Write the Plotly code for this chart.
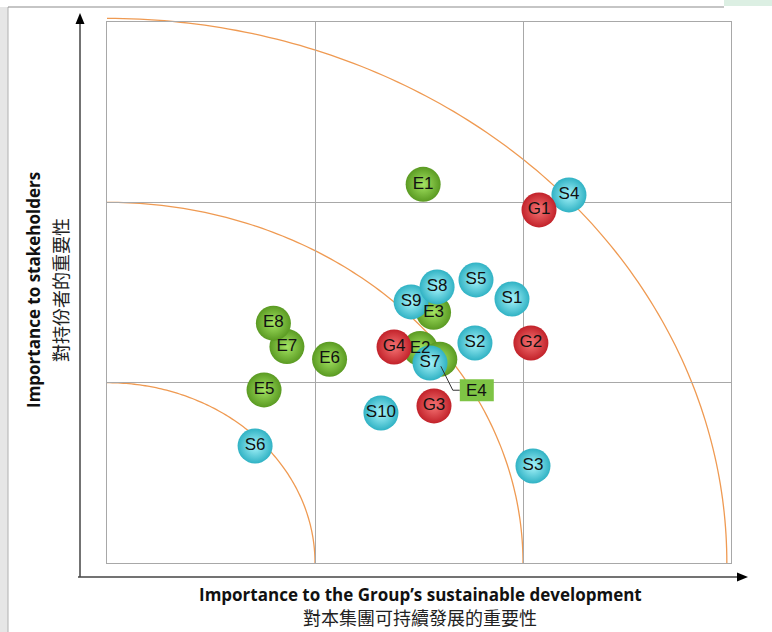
import numpy as np
import plotly.graph_objects as go

# ---------------- data ----------------
E_labels = ["E1", "E2", "E3", "E4", "E5", "E6", "E7", "E8"]
E_x = [1.52, 1.505, 1.57, 1.60, 0.755, 1.07, 0.865, 0.80]
E_y = [2.10, 1.19, 1.39, 1.13, 0.96, 1.13, 1.20, 1.33]

S_labels = ["S1", "S2", "S3", "S4", "S5", "S6", "S7", "S9", "S8", "S10"]
S_x = [1.947, 1.769, 2.048, 2.221, 1.774, 0.712, 1.553, 1.462, 1.587, 1.317]
S_y = [1.464, 1.220, 0.538, 2.041, 1.570, 0.649, 1.109, 1.448, 1.531, 0.832]

G_labels = ["G1", "G2", "G3", "G4"]
G_x = [2.077, 2.038, 1.572, 1.380]
G_y = [1.958, 1.220, 0.871, 1.198]

x_title_en = "Importance to the Group’s sustainable development"
x_title_zh = "對本集團可持續發展的重要性"
y_title_en = "Importance to stakeholders"
y_title_zh = "對持份者的重要性"

# ---------------- layout geometry ----------------
W, H = 772, 632
L, R, T, B = 107, 731, 22, 563
XMAX, YMAX = 3, 3


def px(x):
    return (x - L) / (R - L)


def py(y):
    return (B - y) / (B - T)


def d2pix(x, y):
    return L + x / XMAX * (R - L), B - y / YMAX * (B - T)


fig = go.Figure()

styles = {
    "E": dict(edge="#5a9a22", center="#a4e462"),
    "S": dict(edge="#30b2c4", center="#a8f5fb"),
    "G": dict(edge="#c2222a", center="#f67474"),
}

for key, xs, ys in [("E", E_x, E_y), ("S", S_x, S_y), ("G", G_x, G_y)]:
    st = styles[key]
    fig.add_trace(go.Scatter(
        x=xs, y=ys, mode="markers",
        marker=dict(size=35, color=st["edge"],
                    gradient=dict(type="radial", color=st["center"]),
                    line=dict(width=0)),
        cliponaxis=False, hoverinfo="skip", showlegend=False))

# labels on top of all bubbles
for labels, xs, ys in [(E_labels, E_x, E_y), (S_labels, S_x, S_y), (G_labels, G_x, G_y)]:
    txt = [("" if lb == "E4" else lb) for lb in labels]
    fig.add_trace(go.Scatter(
        x=xs, y=ys, mode="text", text=txt, textposition="middle center",
        textfont=dict(family="Arial", size=17, color="#111"),
        cliponaxis=False, hoverinfo="skip", showlegend=False))

shapes = []
# arcs
ARC_RADII = [(1.0, 1.0), (2.0, 2.0), (2.98, 3.02)]
th = np.linspace(0, np.pi / 2, 120)
for rx, ry in ARC_RADII:
    xs = rx * np.cos(th) / XMAX
    ys = ry * np.sin(th) / YMAX
    path = "M " + " L ".join(f"{a:.5f},{b:.5f}" for a, b in zip(xs, ys))
    shapes.append(dict(type="path", xref="paper", yref="paper", path=path,
                       line=dict(color="#ef9a52", width=1.3), layer="below"))

# axis arrows
AX = "#444"
shapes.append(dict(type="line", xref="paper", yref="paper",
                   x0=px(80), y0=py(577), x1=px(80), y1=py(22),
                   line=dict(color=AX, width=1.5)))
shapes.append(dict(type="line", xref="paper", yref="paper",
                   x0=px(78), y0=py(577), x1=px(740), y1=py(577),
                   line=dict(color=AX, width=1.5)))
shapes.append(dict(type="path", xref="paper", yref="paper",
                   path=f"M {px(80)},{py(13)} L {px(75.5)},{py(24)} L {px(84.5)},{py(24)} Z",
                   fillcolor="black", line=dict(width=0)))
shapes.append(dict(type="path", xref="paper", yref="paper",
                   path=f"M {px(748)},{py(577)} L {px(737)},{py(572.5)} L {px(737)},{py(581.5)} Z",
                   fillcolor="black", line=dict(width=0)))

# outer frame decorations
shapes.append(dict(type="rect", xref="paper", yref="paper",
                   x0=px(0), x1=px(8), y0=py(632), y1=py(7),
                   fillcolor="#e6e6e6", line=dict(width=0), layer="below"))
shapes.append(dict(type="line", xref="paper", yref="paper",
                   x0=px(8), x1=px(8), y0=py(632), y1=py(7),
                   line=dict(color="#b0b0b0", width=1)))
shapes.append(dict(type="line", xref="paper", yref="paper",
                   x0=px(8), x1=px(724), y0=py(7), y1=py(7),
                   line=dict(color="#8c8c8c", width=1.2)))
shapes.append(dict(type="rect", xref="paper", yref="paper",
                   x0=px(724), x1=px(772), y0=py(6), y1=py(0),
                   fillcolor="#dcefe3", line=dict(width=0)))

# E4 callout
i4 = E_labels.index("E4")
ex, ey = d2pix(E_x[i4], E_y[i4])
shapes.append(dict(type="path", xref="paper", yref="paper",
                   path=f"M {px(ex+1)},{py(ey+7)} L {px(ex+13)},{py(ey+31)} L {px(ex+20)},{py(ey+31)}",
                   line=dict(color="#333", width=1)))
bx, by = ex + 37, ey + 31
shapes.append(dict(type="rect", xref="paper", yref="paper",
                   x0=px(bx - 17), x1=px(bx + 17), y0=py(by + 11), y1=py(by - 11),
                   fillcolor="#7ec445", line=dict(width=0)))

annotations = [
    dict(xref="paper", yref="paper", x=px(bx), y=py(by), text="E4", showarrow=False,
         font=dict(family="Arial", size=17, color="#111"), xanchor="center", yanchor="middle"),
    dict(xref="paper", yref="paper", x=px(420), y=py(594), text=f"<b>{x_title_en}</b>",
         showarrow=False, font=dict(family="Open Sans", size=17, color="#111"),
         xanchor="center", yanchor="middle"),
    dict(xref="paper", yref="paper", x=px(420), y=py(617), text=x_title_zh,
         showarrow=False, font=dict(family="Noto Sans CJK TC", size=18, color="#222"),
         xanchor="center", yanchor="middle"),
    dict(xref="paper", yref="paper", x=px(33), y=py(290), text=f"<b>{y_title_en}</b>",
         showarrow=False, textangle=-90, font=dict(family="Open Sans", size=17, color="#111"),
         xanchor="center", yanchor="middle"),
    dict(xref="paper", yref="paper", x=px(60), y=py(290), text=y_title_zh,
         showarrow=False, textangle=-90, font=dict(family="Noto Sans CJK TC", size=18, color="#222"),
         xanchor="center", yanchor="middle"),
]

axis_common = dict(showticklabels=False, ticks="", showgrid=True, gridcolor="#a8a8a8",
                   gridwidth=1, zeroline=False, showline=True, mirror=True,
                   linecolor="#a8a8a8", linewidth=1, dtick=1, fixedrange=True)

fig.update_layout(
    width=W, height=H, autosize=False,
    margin=dict(l=L, r=W - R, t=T, b=H - B, pad=0),
    paper_bgcolor="white", plot_bgcolor="white",
    xaxis=dict(range=[0, XMAX], **axis_common),
    yaxis=dict(range=[0, YMAX], **axis_common),
    shapes=shapes, annotations=annotations, showlegend=False,
)

fig.write_html("out.html", config={"displayModeBar": False})
